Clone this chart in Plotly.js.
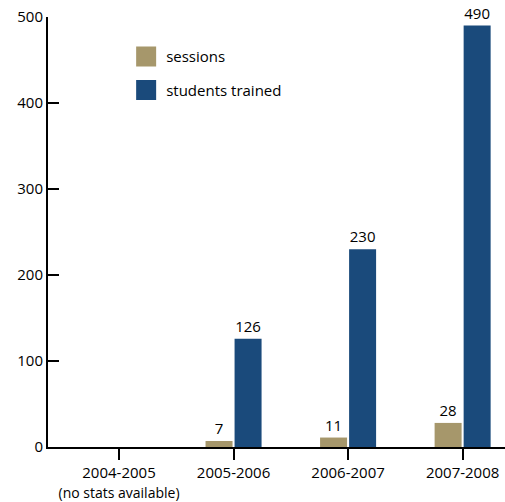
<!DOCTYPE html>
<html>
<head>
<meta charset="utf-8">
<script src="https://cdn.plot.ly/plotly-3.0.1.min.js"></script>
<style>html,body{margin:0;padding:0;background:#fff;}#chart{width:505px;height:502px;}</style>
</head>
<body>
<div id="chart"></div>
<script>
var categories = ["2004-2005", "2005-2006", "2006-2007", "2007-2008"];
var tickLabels = ["2004-2005<br><span style='font-size:14px'>(no stats available)</span>", "2005-2006", "2006-2007", "2007-2008"];
var sessions = [null, 7, 11, 28];
var studentsTrained = [null, 126, 230, 490];
var yTicks = [0, 100, 200, 300, 400, 500];

var FONT = "Open Sans, sans-serif";
var INK = "#000";

var traces = [
  {
    type: "bar", name: "sessions", x: categories, y: sessions,
    text: sessions.map(function(v){ return v === null ? "" : String(v); }),
    textposition: "outside", cliponaxis: false,
    textfont: {family: FONT, size: 15, color: INK},
    marker: {color: "#a6976b"}, legendgroup: "a", hoverinfo: "none"
  },
  {
    type: "bar", name: "students trained", x: categories, y: studentsTrained,
    text: studentsTrained.map(function(v){ return v === null ? "" : String(v); }),
    textposition: "outside", cliponaxis: false,
    textfont: {family: FONT, size: 15, color: INK},
    marker: {color: "#1a4a7b"}, legendgroup: "b", hoverinfo: "none"
  }
];

var layout = {
  width: 505, height: 502,
  margin: {l: 48, r: 0, t: 17, b: 55, pad: 0},
  paper_bgcolor: "#fff", plot_bgcolor: "#fff",
  font: {family: FONT, size: 15, color: INK},
  barmode: "group", bargap: 0.493, bargroupgap: 0.07,
  showlegend: true,
  legend: {x: 0.171, y: 0.946, xanchor: "left", yanchor: "top",
           font: {family: FONT, size: 15, color: INK},
           tracegroupgap: 11, bgcolor: "rgba(0,0,0,0)"},
  xaxis: {
    type: "category", categoryorder: "array", categoryarray: categories,
    tickvals: categories, ticktext: tickLabels,
    range: [-0.62, 3.37],
    showline: true, linewidth: 2, linecolor: "#000",
    ticks: "outside", ticklen: 11, tickwidth: 2, tickcolor: "#000",
    showgrid: false, zeroline: false, fixedrange: true,
    tickfont: {family: FONT, size: 15, color: INK}
  },
  yaxis: {
    range: [0, 500], tickvals: yTicks,
    showline: true, linewidth: 2, linecolor: "#000",
    ticks: "inside", ticklen: 11, tickwidth: 2, tickcolor: "#000",
    showgrid: false, zeroline: false, fixedrange: true,
    tickfont: {family: FONT, size: 15, color: INK}
  }
};

Plotly.newPlot("chart", traces, layout, {displayModeBar: false, staticPlot: true}).then(function(gd){
  var pts = gd.querySelectorAll(".legend .legendpoints path");
  pts.forEach(function(p){ p.setAttribute("d", "M10,10H-10V-10H10Z"); p.style.strokeWidth = "0"; });
});
</script>
</body>
</html>
